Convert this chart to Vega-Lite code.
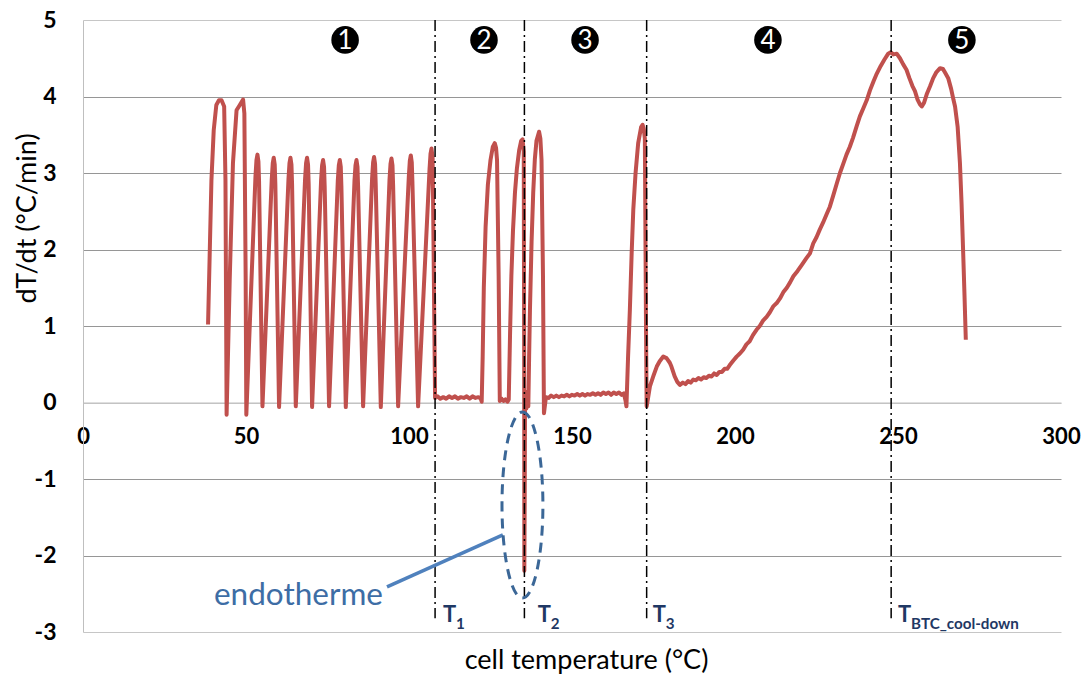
{
  "$schema": "https://vega.github.io/schema/vega-lite/v6.json",
  "width": 978,
  "height": 612,
  "autosize": {"type": "none"},
  "padding": {"left": 83, "top": 20, "right": 24, "bottom": 43},
  "config": {"view": {"stroke": null}, "font": "Lato"},
  "datasets": {
    "curve": [
      {"t":38.36,"r":1.02},{"t":39.4,"r":2.91},{"t":40.1,"r":3.56},{"t":40.9,"r":3.89},{"t":41.7,"r":3.95},{"t":42.5,"r":3.95},{"t":43.3,"r":3.87},{"t":43.7,"r":2.91},{"t":44.05,"r":-0.16},
      {"t":45.0,"r":1.6},{"t":46.0,"r":3.13},{"t":47.1,"r":3.82},{"t":48.1,"r":3.89},{"t":49.1,"r":3.96},{"t":49.5,"r":3.78},{"t":49.9,"r":1.6},{"t":50.1,"r":-0.16},
      {"t":52.9,"r":2.95},{"t":53.21,"r":3.17},{"t":53.51,"r":3.24},{"t":53.81,"r":3.15},{"t":54.0,"r":2.9},{"t":55.05,"r":-0.05},
      {"t":57.9,"r":2.92},{"t":58.21,"r":3.13},{"t":58.51,"r":3.2},{"t":58.81,"r":3.11},{"t":59.0,"r":2.86},{"t":60.14,"r":-0.06},
      {"t":63.03,"r":2.92},{"t":63.34,"r":3.13},{"t":63.64,"r":3.2},{"t":63.94,"r":3.11},{"t":64.13,"r":2.86},{"t":65.27,"r":-0.05},
      {"t":68.12,"r":2.92},{"t":68.43,"r":3.13},{"t":68.73,"r":3.2},{"t":69.03,"r":3.11},{"t":69.22,"r":2.86},{"t":70.27,"r":-0.06},
      {"t":73.03,"r":2.9},{"t":73.34,"r":3.1},{"t":73.64,"r":3.17},{"t":73.94,"r":3.08},{"t":74.13,"r":2.83},{"t":75.48,"r":-0.05},
      {"t":78.16,"r":2.9},{"t":78.47,"r":3.1},{"t":78.77,"r":3.17},{"t":79.07,"r":3.08},{"t":79.26,"r":2.83},{"t":80.61,"r":-0.06},
      {"t":83.28,"r":2.9},{"t":83.59,"r":3.1},{"t":83.89,"r":3.17},{"t":84.19,"r":3.08},{"t":84.38,"r":2.83},{"t":85.92,"r":-0.05},
      {"t":88.68,"r":2.93},{"t":88.99,"r":3.14},{"t":89.29,"r":3.21},{"t":89.59,"r":3.12},{"t":89.78,"r":2.87},{"t":91.35,"r":-0.06},
      {"t":94.02,"r":2.91},{"t":94.33,"r":3.12},{"t":94.63,"r":3.19},{"t":94.93,"r":3.1},{"t":95.12,"r":2.85},{"t":96.66,"r":-0.05},
      {"t":99.94,"r":2.95},{"t":100.25,"r":3.16},{"t":100.55,"r":3.23},{"t":100.85,"r":3.14},{"t":101.04,"r":2.89},{"t":102.79,"r":-0.05},
      {"t":106.3,"r":3.05},{"t":106.6,"r":3.25},{"t":106.9,"r":3.32},{"t":107.25,"r":3.2},{"t":108.0,"r":0.06},
      {"t":108.8,"r":0.08},{"t":109.6,"r":0.05},{"t":110.5,"r":0.07},{"t":111.4,"r":0.05},{"t":112.3,"r":0.08},{"t":113.2,"r":0.06},{"t":114.1,"r":0.08},{"t":115.0,"r":0.05},{"t":115.9,"r":0.07},{"t":116.8,"r":0.06},{"t":117.7,"r":0.08},{"t":118.6,"r":0.05},{"t":119.5,"r":0.08},{"t":120.4,"r":0.06},{"t":121.3,"r":0.07},{"t":122.0,"r":0.05},{"t":122.3,"r":0.01},
      {"t":122.6,"r":0.6},{"t":122.95,"r":1.5},{"t":123.5,"r":2.3},{"t":124.2,"r":2.85},{"t":125.0,"r":3.17},{"t":125.7,"r":3.34},{"t":126.3,"r":3.39},{"t":126.7,"r":3.33},{"t":127.0,"r":3.17},{"t":127.5,"r":1.65},{"t":127.85,"r":0.02},
      {"t":128.4,"r":0.05},{"t":129.0,"r":0.02},{"t":129.6,"r":0.04},{"t":130.2,"r":0.01},{"t":130.6,"r":0.04},
      {"t":131.0,"r":0.9},{"t":131.4,"r":1.65},{"t":131.9,"r":2.25},{"t":132.5,"r":2.74},{"t":133.1,"r":3.06},{"t":133.8,"r":3.3},{"t":134.4,"r":3.42},{"t":134.83,"r":3.44},{"t":135.2,"r":3.28},{"t":135.33,"r":0.5},{"t":135.38,"r":-2.2},{"t":135.5,"r":-1.2},{"t":135.6,"r":0.12},{"t":136.0,"r":-0.08},{"t":136.3,"r":0.14},{"t":136.6,"r":-0.05},
      {"t":136.85,"r":0.6},{"t":137.1,"r":1.21},{"t":137.6,"r":2.1},{"t":138.1,"r":2.74},{"t":138.6,"r":3.18},{"t":139.1,"r":3.42},{"t":139.9,"r":3.54},{"t":140.3,"r":3.45},{"t":140.65,"r":3.17},{"t":141.1,"r":1.65},{"t":141.4,"r":-0.14},
      {"t":142.0,"r":0.07},{"t":142.8,"r":0.06},{"t":143.6,"r":0.09},{"t":144.4,"r":0.07},{"t":145.2,"r":0.09},{"t":146.0,"r":0.07},{"t":146.8,"r":0.09},{"t":147.6,"r":0.08},{"t":148.4,"r":0.1},{"t":149.2,"r":0.08},{"t":150.0,"r":0.1},{"t":150.8,"r":0.09},{"t":151.6,"r":0.11},{"t":152.4,"r":0.09},{"t":153.2,"r":0.11},{"t":154.0,"r":0.09},{"t":154.8,"r":0.11},{"t":155.6,"r":0.1},{"t":156.4,"r":0.12},{"t":157.2,"r":0.1},{"t":158.0,"r":0.12},{"t":158.8,"r":0.1},{"t":159.6,"r":0.13},{"t":160.4,"r":0.11},{"t":161.2,"r":0.13},{"t":162.0,"r":0.1},{"t":162.8,"r":0.13},{"t":163.6,"r":0.11},{"t":164.4,"r":0.13},{"t":165.2,"r":0.1},{"t":165.9,"r":0.12},{"t":166.4,"r":0.03},{"t":166.7,"r":-0.05},
      {"t":167.2,"r":0.6},{"t":167.75,"r":1.21},{"t":168.3,"r":1.95},{"t":168.8,"r":2.52},{"t":169.5,"r":3.0},{"t":170.3,"r":3.39},{"t":171.2,"r":3.6},{"t":171.65,"r":3.63},{"t":172.0,"r":3.58},{"t":172.35,"r":3.45},{"t":172.7,"r":1.0},{"t":172.9,"r":-0.05},
      {"t":173.3,"r":0.05},{"t":173.9,"r":0.21},{"t":175.0,"r":0.35},{"t":176.0,"r":0.47},{"t":176.9,"r":0.54},{"t":178.0,"r":0.6},{"t":179.0,"r":0.58},{"t":180.0,"r":0.52},{"t":180.5,"r":0.47},{"t":181.5,"r":0.34},{"t":182.3,"r":0.27},{"t":183.1,"r":0.23},
      {"t":184.0,"r":0.26},{"t":184.8,"r":0.24},{"t":185.6,"r":0.28},{"t":186.4,"r":0.26},{"t":187.2,"r":0.3},{"t":188.0,"r":0.29},{"t":188.8,"r":0.32},{"t":189.6,"r":0.3},{"t":190.4,"r":0.33},{"t":191.2,"r":0.32},{"t":192.0,"r":0.35},{"t":192.8,"r":0.34},{"t":193.6,"r":0.38},{"t":194.4,"r":0.36},{"t":195.2,"r":0.4},{"t":196.0,"r":0.4},{"t":196.8,"r":0.44},{"t":197.6,"r":0.44},{"t":198.4,"r":0.49},
      {"t":199.5,"r":0.55},{"t":200.5,"r":0.6},{"t":201.5,"r":0.64},{"t":202.5,"r":0.69},{"t":203.5,"r":0.76},{"t":204.5,"r":0.8},{"t":205.5,"r":0.88},{"t":206.6,"r":0.95},{"t":207.6,"r":1.0},{"t":208.6,"r":1.07},{"t":209.7,"r":1.12},{"t":210.7,"r":1.18},{"t":211.8,"r":1.26},{"t":212.8,"r":1.3},{"t":213.8,"r":1.36},{"t":214.8,"r":1.44},{"t":215.9,"r":1.5},{"t":216.9,"r":1.57},{"t":217.9,"r":1.65},
      {"t":219.2,"r":1.72},{"t":220.5,"r":1.8},{"t":221.8,"r":1.88},{"t":223.0,"r":1.95},{"t":224.0,"r":2.08},{"t":225.0,"r":2.16},{"t":226.0,"r":2.26},{"t":227.0,"r":2.35},{"t":228.1,"r":2.46},{"t":229.1,"r":2.56},{"t":230.1,"r":2.7},{"t":231.2,"r":2.86},{"t":232.2,"r":3.0},{"t":233.2,"r":3.12},{"t":234.2,"r":3.24},{"t":235.2,"r":3.34},{"t":236.2,"r":3.46},{"t":237.3,"r":3.61},{"t":238.3,"r":3.74},{"t":239.4,"r":3.85},{"t":240.4,"r":3.95},{"t":241.4,"r":4.08},{"t":242.5,"r":4.2},{"t":243.5,"r":4.3},{"t":244.7,"r":4.4},{"t":245.8,"r":4.48},{"t":247.0,"r":4.56},{"t":247.8,"r":4.58},{"t":248.6,"r":4.55},{"t":249.6,"r":4.56},
      {"t":250.6,"r":4.5},{"t":251.6,"r":4.42},{"t":252.6,"r":4.35},{"t":253.5,"r":4.24},{"t":254.4,"r":4.14},{"t":255.2,"r":4.07},{"t":256.0,"r":3.96},{"t":256.7,"r":3.9},{"t":257.3,"r":3.87},{"t":258.0,"r":3.92},{"t":258.9,"r":4.04},{"t":259.8,"r":4.13},{"t":260.8,"r":4.24},{"t":261.8,"r":4.32},{"t":262.9,"r":4.37},{"t":263.8,"r":4.36},{"t":264.6,"r":4.3},{"t":265.4,"r":4.24},{"t":266.3,"r":4.1},{"t":267.0,"r":3.96},{"t":267.5,"r":3.87},{"t":268.3,"r":3.6},{"t":269.0,"r":3.13},{"t":269.5,"r":2.6},{"t":270.0,"r":1.95},{"t":270.4,"r":1.4},{"t":270.8,"r":0.82}
    ],
    "lines": [
      {"t":108.0,"lt":110.4,"s":"1"},
      {"t":135.4,"lt":139.5,"s":"2"},
      {"t":172.9,"lt":174.8,"s":"3"},
      {"t":247.9,"lt":250.0,"s":"BTC_cool-down"}
    ],
    "phases": [
      {"t":80.4,"n":"1"},{"t":123.0,"n":"2"},{"t":154.0,"n":"3"},{"t":210.1,"n":"4"},{"t":269.6,"n":"5"}
    ],
    "ellipse": [{"t":134.8,"r":-1.34}],
    "leader": [{"t":93.25,"r":-2.41,"t2":128.8,"r2":-1.73}],
    "note": [{"t":92.0,"r":-2.65,"text":"endotherme"}]
  },
  "layer": [
    {
      "data": {"name": "curve"},
      "mark": {"type": "line", "color": "#C0504D", "strokeWidth": 4, "strokeJoin": "round"},
      "encoding": {
        "x": {
          "field": "t", "type": "quantitative",
          "scale": {"domain": [0, 300], "nice": false, "zero": false},
          "axis": {
            "title": "cell temperature (°C)",
            "values": [0, 50, 100, 150, 200, 250, 300],
            "grid": false, "ticks": false,
            "domainColor": "#BFBFBF",
            "offset": -229.5,
            "labelFont": "Lato", "labelFontSize": 22, "labelFontWeight": "bold", "labelColor": "#000000",
            "labelBaseline": "middle", "labelPadding": 34, "labelFlush": false, "labelOverlap": false,
            "titleFont": "Lato", "titleFontSize": 27, "titleFontWeight": "normal", "titleColor": "#000000",
            "titleX": 503, "titleY": 257.5, "titleAlign": "center", "titleBaseline": "middle", "titleAngle": 0
          }
        },
        "y": {
          "field": "r", "type": "quantitative",
          "scale": {"domain": [-3, 5], "nice": false, "zero": false},
          "axis": {
            "title": "dT/dt (°C/min)",
            "values": [-3, -2, -1, 0, 1, 2, 3, 4, 5],
            "grid": true,
            "gridColor": {"condition": {"test": "datum.value == 5 || datum.value == -3 || datum.value == 0", "value": "#C6C6C6"}, "value": "#969696"},
            "ticks": false,
            "domainColor": "#BFBFBF",
            "labelFont": "Lato", "labelFontSize": 23, "labelFontWeight": "bold", "labelColor": "#000000",
            "labelPadding": 27,
            "labelExpr": "'' + datum.value",
            "titleFont": "Lato", "titleFontSize": 27, "titleFontWeight": "normal", "titleColor": "#000000",
            "titleX": -56, "titleY": 198, "titleAngle": -90, "titleAlign": "center", "titleBaseline": "middle"
          }
        }
      }
    },
    {
      "data": {"name": "lines"},
      "mark": {"type": "rule", "color": "#000000", "strokeWidth": 1.5, "strokeDash": [11, 4, 2, 4]},
      "encoding": {
        "x": {"field": "t", "type": "quantitative"},
        "y": {"datum": 5},
        "y2": {"datum": -2.82}
      }
    },
    {
      "data": {"name": "lines"},
      "mark": {"type": "text", "align": "left", "baseline": "alphabetic", "fontSize": 22, "fontWeight": "bold", "color": "#1F3864", "text": "T"},
      "encoding": {
        "x": {"field": "lt", "type": "quantitative"},
        "y": {"datum": -2.87}
      }
    },
    {
      "data": {"name": "lines"},
      "mark": {"type": "text", "align": "left", "baseline": "alphabetic", "fontSize": 15.2, "fontWeight": "bold", "color": "#1F3864", "dx": 13, "dy": 7},
      "encoding": {
        "x": {"field": "lt", "type": "quantitative"},
        "y": {"datum": -2.87},
        "text": {"field": "s"}
      }
    },
    {
      "data": {"name": "phases"},
      "mark": {"type": "point", "shape": "circle", "filled": true, "color": "#000000", "size": 760, "opacity": 1},
      "encoding": {
        "x": {"field": "t", "type": "quantitative"},
        "y": {"datum": 4.74}
      }
    },
    {
      "data": {"name": "phases"},
      "mark": {"type": "text", "color": "#FFFFFF", "fontSize": 26, "align": "center", "baseline": "middle", "dy": 1},
      "encoding": {
        "x": {"field": "t", "type": "quantitative"},
        "y": {"datum": 4.74},
        "text": {"field": "n"}
      }
    },
    {
      "data": {"name": "leader"},
      "mark": {"type": "rule", "color": "#4F81BD", "strokeWidth": 3.5},
      "encoding": {
        "x": {"field": "t", "type": "quantitative"},
        "y": {"field": "r", "type": "quantitative"},
        "x2": {"field": "t2"},
        "y2": {"field": "r2"}
      }
    },
    {
      "data": {"name": "ellipse"},
      "mark": {
        "type": "point",
        "shape": "M 0 -1 C 0.1215 -1 0.22 -0.5523 0.22 0 C 0.22 0.5523 0.1215 1 0 1 C -0.1215 1 -0.22 0.5523 -0.22 0 C -0.22 -0.5523 -0.1215 -1 0 -1 Z",
        "size": 34600, "filled": false, "color": "#3B6797", "strokeWidth": 3, "strokeDash": [10, 7], "opacity": 1
      },
      "encoding": {
        "x": {"field": "t", "type": "quantitative"},
        "y": {"field": "r", "type": "quantitative"}
      }
    },
    {
      "data": {"name": "note"},
      "mark": {"type": "text", "align": "right", "baseline": "alphabetic", "fontSize": 31.5, "color": "#3D6DA5"},
      "encoding": {
        "x": {"field": "t", "type": "quantitative"},
        "y": {"field": "r", "type": "quantitative"},
        "text": {"field": "text"}
      }
    }
  ]
}
